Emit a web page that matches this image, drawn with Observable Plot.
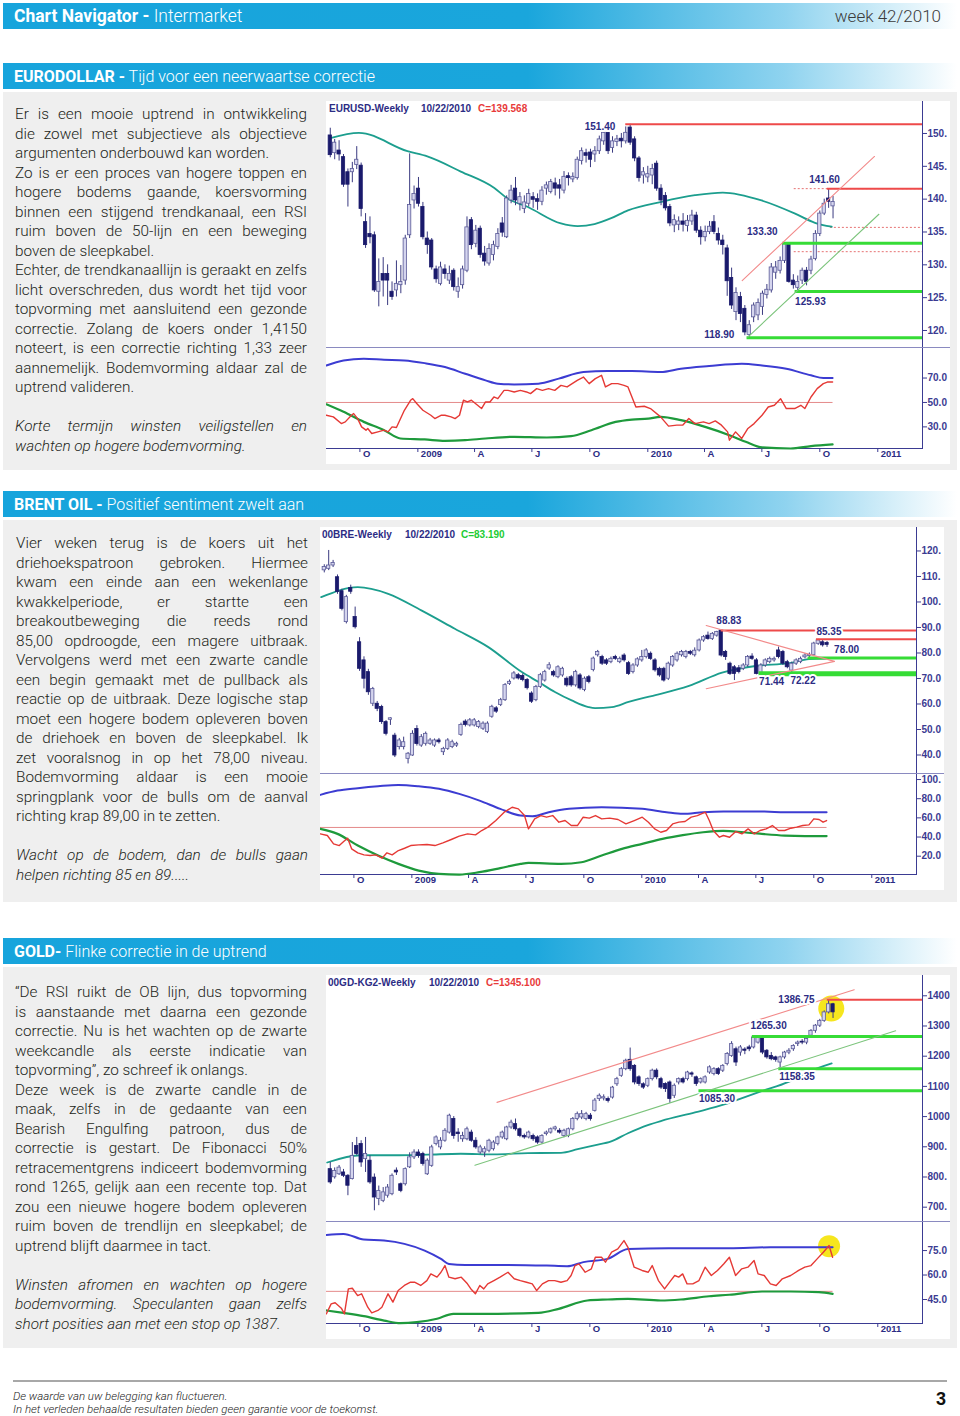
<!DOCTYPE html>
<html><head><meta charset="utf-8">
<script src="https://cdn.jsdelivr.net/npm/d3@7"></script>
<script src="https://cdn.jsdelivr.net/npm/@observablehq/plot@0.6"></script>
<style>
body{margin:0;background:#fff;}
#page{position:relative;width:960px;height:1416px;overflow:hidden;font-family:Roboto,"Liberation Sans",Arial,sans-serif;}
.bar{position:absolute;left:3px;width:954px;height:26px;background:linear-gradient(90deg,#17a4dc 0%,#1aa6dc 55%,#8fd3ef 82%,#ffffff 100%);color:#fff;display:flex;align-items:center;box-sizing:border-box;padding-left:11px;font-size:16px;}
.bar b{font-weight:700;}
.bar span{font-weight:300;}
.panel{position:absolute;left:3px;width:954px;background:#efefef;}
.txt{position:absolute;width:292px;font-size:15.3px;line-height:19.5px;color:#231f20;font-weight:300;}
.ln{height:19.5px;white-space:nowrap;}
.jl{display:flex;justify-content:space-between;}
.it{font-style:italic;}
.chart{position:absolute;width:624px;background:#fff;overflow:hidden;}
.chart .pp{position:absolute;left:0;width:624px;overflow:hidden;}
.sep{position:absolute;left:0;width:624px;height:1px;background:#8a8ac0;}
.ctitle{position:absolute;top:2px;left:0;height:12px;font:bold 10px "Liberation Sans",Arial,sans-serif;color:#2c2c84;white-space:nowrap;}
.ctitle span{position:absolute;top:0;line-height:12px;}
.foot{position:absolute;left:13px;font-size:11.5px;font-style:italic;color:#222;font-weight:300;}
</style>
</head><body><div id="page"></div>
<script>
// ---------- time axis ----------
const DAY = 864e5;
const T0 = Date.UTC(2008, 7, 15);
const wk = i => new Date(T0 + i * 7 * DAY);
const xDomain = [new Date(Date.UTC(2008, 7, 9)), new Date(Date.UTC(2011, 2, 13))];
const tickDates = [[2008,9],[2009,0],[2009,3],[2009,6],[2009,9],[2010,0],[2010,3],[2010,6],[2010,9],[2011,0]].map(([y,m]) => new Date(Date.UTC(y, m, 1)));
const tickLabels = ["O","2009","A","J","O","2010","A","J","O","2011"];

// ---------- EURUSD ----------
const eurOpen = [149.7,147.0,147.4,146.4,144.1,144.1,145.2,145.1,136.5,134.7,134.5,125.9,128.6,128.6,125.9,126.1,126.9,127.6,134.5,139.8,141.6,138.8,134.0,133.7,129.3,127.1,129.3,127.6,129.1,125.9,126.9,129.1,136.8,133.2,135.5,131.7,130.2,131.5,132.7,136.3,134.2,139.8,141.6,139.3,138.5,139.3,140.3,140.0,139.6,141.6,141.1,142.4,142.1,141.3,143.5,143.0,143.2,145.8,147.0,147.1,146.8,147.3,148.8,150.1,147.8,148.7,149.2,148.8,150.9,149.1,146.2,143.6,143.3,143.6,145.4,141.6,140.5,138.8,136.0,136.1,136.6,135.9,136.6,137.5,135.2,134.2,135.0,136.5,134.7,133.7,132.5,128.0,122.8,125.1,123.3,119.3,122.0,122.3,123.6,125.4,126.1,128.8,129.1,130.6,133.2,127.6,126.5,127.6,129.1,129.1,130.9,134.7,137.8,140.1,138.9];
const eurHigh = [150.8,149.1,148.9,146.8,144.6,145.6,148.0,145.5,137.8,137.3,135.0,130.9,131.1,130.0,127.4,130.6,129.9,134.5,146.9,142.0,143.3,139.5,135.0,134.0,129.8,130.4,130.0,129.8,129.4,128.0,129.8,137.3,137.2,136.0,135.9,132.8,133.2,133.6,135.5,137.2,140.5,142.1,143.3,141.0,140.5,141.5,141.0,140.8,141.9,142.6,143.0,143.2,143.0,144.2,144.0,144.0,146.4,147.8,147.6,147.6,148.0,149.6,150.6,150.4,149.5,149.7,150.0,151.0,151.4,149.5,146.5,144.8,145.0,145.3,145.8,142.2,141.0,139.2,137.6,137.3,137.8,137.5,138.3,138.0,135.8,135.9,136.6,137.5,135.6,134.5,133.0,129.5,126.5,125.8,123.8,121.5,124.2,124.8,126.0,127.0,130.2,130.5,131.2,133.3,133.3,128.5,128.3,129.5,129.6,131.3,135.2,138.2,140.0,141.6,140.4];
const eurLow = [146.3,146.0,145.8,141.8,138.8,142.5,144.5,137.3,132.5,133.2,125.8,123.6,125.1,123.8,124.6,125.1,125.6,126.9,134.0,138.5,138.8,133.8,131.6,129.2,127.2,126.8,127.8,127.0,126.0,124.9,126.3,128.8,132.3,132.6,131.0,129.8,129.8,130.6,132.3,134.2,134.0,139.3,139.0,138.2,137.8,138.8,138.6,138.3,139.0,140.6,140.8,140.5,140.0,140.8,142.0,142.5,142.9,145.2,145.5,144.8,145.6,146.8,148.2,146.8,147.0,148.0,147.8,148.4,148.2,145.7,142.6,142.3,142.5,142.2,141.2,139.0,138.2,135.8,134.9,135.2,135.0,135.0,136.0,134.8,133.0,133.5,134.6,134.6,133.0,131.5,125.2,123.2,121.5,121.2,119.2,118.9,121.2,121.5,122.3,124.8,125.7,127.8,128.6,130.2,127.2,126.3,125.93,127.0,126.8,128.5,130.6,134.3,137.5,138.6,137.0];
const eurClose = [146.7,148.6,146.8,142.2,142.2,144.6,146.0,138.5,133.0,134.2,126.1,127.4,127.6,127.6,125.1,127.1,127.4,134.0,139.1,140.8,139.3,134.2,133.0,129.6,127.8,129.6,128.6,128.6,126.6,126.6,129.3,135.7,133.0,135.2,131.5,130.5,132.4,133.0,134.7,134.9,140.1,141.3,139.8,140.3,139.5,140.8,139.9,139.6,141.3,142.1,142.6,141.6,141.6,143.4,143.2,143.4,146.0,147.3,146.6,146.0,147.3,149.1,150.1,147.3,148.8,149.1,148.8,150.1,148.6,146.2,143.2,144.1,143.8,144.6,141.6,139.8,138.6,136.3,136.8,136.6,136.1,136.7,137.5,135.2,134.2,135.0,135.8,135.0,133.7,133.0,127.5,123.8,125.7,122.5,119.7,120.8,123.8,124.2,125.6,126.2,129.6,129.6,130.6,133.2,127.4,126.9,127.4,129.1,127.4,130.8,134.7,137.8,139.3,139.6,139.568];
const eurMA = [[0,149.3],[6.5,150.1],[17.5,147.3],[22,146.5],[29.6,144.2],[37.2,141.7],[40.2,140.1],[44.8,138.8],[52.3,136.3],[56.1,135.9],[59.9,136.2],[63.7,137.1],[67.5,138.3],[75.1,139.6],[82.7,140.6],[89,141.0],[97.8,139.8],[105.4,137.8],[109.9,136.4],[113.7,135.8]];
const eurRedLevels = [[151.40,67.0],[141.60,112.7]];
const eurDotLevels = [[141.60,105.2],[135.7,113.4],[132.0,105.2]];
const eurGreenLevels = [[133.30,102.6],[125.93,105.4],[118.90,94.5]];
const eurRedTrend = [[93.4,127.6],[123.4,146.5]];
const eurGreenTrend = [[94.7,119.0],[124.4,137.7]];
const eurLabels = [["151.40",57.7,151.0],["141.60",108.6,143.0],["133.30",94.5,135.1],["125.93",105.4,124.4],["118.90",84.8,119.3]];
const eurTicks = [150,145,140,135,130,125,120];
const eurRsi = [[-0.9,39.5],[0.7,38.2],[2.5,32.7],[3.4,34.1],[4.8,39.5],[5.3,40.9],[6.2,36.8],[7.1,30.0],[8.1,27.3],[8.5,28.7],[9.4,24.6],[10.8,25.9],[12.2,27.3],[13.1,25.9],[14.0,30.0],[15.0,29.5],[16.8,43.6],[18.2,51.8],[18.7,53.1],[19.6,49.1],[21.0,43.6],[22.8,39.5],[23.7,36.8],[25.1,39.5],[26.0,39.5],[27.4,38.2],[28.3,36.8],[29.3,39.5],[30.2,51.8],[31.1,50.4],[32.0,51.8],[33.4,47.7],[34.3,45.0],[35.2,50.4],[36.2,50.4],[37.1,54.5],[38.0,53.1],[39.4,59.9],[40.3,59.9],[41.7,58.6],[43.1,59.9],[44.5,58.6],[45.4,57.2],[46.8,61.3],[48.1,59.9],[49.5,61.3],[50.9,59.9],[52.3,64.0],[53.7,62.7],[56.0,68.1],[57.4,70.8],[58.7,65.4],[60.1,69.5],[61.5,72.2],[62.4,62.7],[63.8,65.4],[65.2,65.4],[66.6,64.0],[67.5,62.7],[69.3,46.3],[71.2,46.9],[72.6,45.0],[74.9,38.2],[76.7,30.6],[78.6,31.4],[79.9,31.4],[81.3,36.8],[82.7,32.7],[84.6,34.1],[85.9,32.7],[87.3,34.9],[88.7,31.4],[90.1,25.9],[90.5,19.1],[91.9,25.9],[93.3,20.5],[94.7,28.7],[96.1,32.7],[97.9,39.5],[99.3,46.3],[100.7,47.7],[102.1,53.1],[103.4,45.0],[105.3,45.0],[106.7,47.7],[107.6,45.0],[109.0,54.5],[110.4,61.3],[111.8,65.4],[112.7,66.7],[113.9,66.7]];
const eurUpper = [[-0.9,80.3],[3.0,84.4],[7.6,85.8],[12.2,85.0],[16.8,84.4],[21.4,82.2],[26.0,79.0],[30.6,73.5],[35.2,68.1],[38.0,65.4],[41.7,64.8],[47.2,65.4],[51.8,69.5],[57.4,74.9],[62.9,75.7],[68.4,75.7],[74.9,74.9],[79.5,77.6],[85.9,79.8],[93.3,81.7],[97.9,80.3],[103.4,77.6],[109.0,72.2],[111.8,70.0],[113.9,70.0]];
const eurLower = [[-0.9,48.5],[3.0,42.3],[7.6,34.1],[12.2,27.3],[15.9,20.5],[21.4,19.7],[26.0,18.6],[30.6,19.1],[35.2,20.5],[41.7,21.9],[49.1,21.3],[54.6,22.4],[59.2,27.3],[64.7,34.1],[68.4,36.0],[72.1,36.8],[74.9,38.2],[79.5,35.5],[85.0,30.0],[90.5,23.2],[94.2,17.8],[97.9,13.2],[104.4,12.3],[109.0,14.2],[113.9,15.6]];
const eurRsiTicks = [70,50,30];

// ---------- BRENT ----------
const brentOpen = [112.4,113.0,114.3,109.7,104.2,92.1,105.5,94.1,84.2,77.1,72.5,60.1,60.1,58.8,52.9,53.8,47.6,43.1,43.1,38.5,39.8,50.2,43.7,44.4,44.4,43.7,45.7,41.1,42.4,43.1,43.7,47.9,53.1,51.6,51.6,51.0,50.3,49.0,55.0,58.3,59.6,61.5,67.9,70.0,71.3,71.0,69.4,64.1,61.5,66.7,69.2,73.9,72.5,70.5,71.2,69.9,70.5,67.3,71.2,65.5,70.5,73.3,79.1,78.4,77.1,76.4,78.4,76.4,79.0,76.0,72.5,75.1,77.1,78.4,79.7,77.1,73.8,73.8,69.9,75.1,77.1,79.1,78.4,80.4,79.1,81.0,84.9,86.8,85.5,86.8,88.8,80.4,75.8,74.4,74.0,73.8,75.1,78.6,77.1,71.8,75.1,76.4,77.1,81.0,80.4,76.4,73.1,75.8,76.4,78.3,78.8,79.1,83.6,84.2,83.9];
const brentHigh = [114.6,120.2,116.3,110.6,105.0,102.6,106.6,98.0,86.0,78.5,73.6,66.5,61.0,59.5,53.5,54.6,48.5,46.5,47.0,41.0,49.5,51.5,48.0,49.0,46.5,46.3,46.5,43.0,46.4,45.8,45.0,52.5,53.8,54.3,54.3,53.5,53.0,53.0,59.5,59.0,62.2,68.0,69.4,72.7,72.0,71.8,70.0,64.8,67.3,72.0,73.2,76.2,73.2,75.0,74.4,70.6,71.2,73.2,71.9,70.6,71.2,78.4,81.0,79.1,77.8,78.4,79.1,78.4,79.7,76.7,75.8,78.1,81.0,81.7,80.4,77.8,74.4,74.4,76.4,79.0,80.4,81.0,81.0,81.0,82.0,85.5,86.8,88.2,88.0,88.5,88.83,81.0,76.4,75.1,75.1,75.8,79.0,79.7,77.8,75.8,77.7,78.4,78.4,82.3,81.0,77.1,76.4,77.7,78.4,79.7,80.0,84.2,85.35,84.9,84.5];
const brentLow = [111.4,112.3,113.5,103.0,96.5,91.4,103.0,89.4,72.8,65.9,63.4,59.0,57.0,52.0,47.5,51.6,39.0,42.0,42.0,36.5,39.5,43.5,43.0,43.5,43.8,43.0,44.3,39.8,41.8,42.5,43.0,47.3,51.0,51.0,51.0,50.3,49.6,48.4,54.4,56.3,59.0,61.0,67.3,69.4,69.4,68.7,65.5,60.2,60.9,66.1,68.6,73.2,70.5,69.9,70.5,66.6,66.6,66.6,65.4,64.8,67.9,72.6,78.4,75.1,75.1,75.8,77.1,75.8,76.4,71.2,71.8,74.4,76.4,77.7,77.1,72.5,70.5,68.6,69.2,74.4,76.4,78.4,77.7,79.0,78.4,80.4,84.2,85.0,84.9,86.2,78.4,77.1,71.2,69.2,71.8,73.1,74.4,77.1,71.44,71.5,74.4,75.8,76.4,77.7,75.1,73.8,72.22,75.1,75.8,77.7,78.1,78.6,83.0,82.3,82.2];
const brentClose = [113.7,114.3,115.3,103.9,97.3,101.9,104.0,90.1,73.8,69.9,64.6,65.9,58.1,52.9,48.3,54.4,39.8,45.7,45.0,40.5,48.3,44.3,47.0,48.3,45.7,45.7,45.0,42.4,45.7,45.0,44.4,51.8,51.8,53.6,53.6,52.9,52.3,52.3,58.9,57.0,61.5,67.4,68.7,72.0,70.0,69.4,66.2,60.9,66.7,71.3,72.5,75.2,71.2,74.4,73.8,67.3,67.3,72.5,66.1,69.9,68.6,77.8,80.4,75.8,75.8,77.7,77.7,77.7,77.1,71.8,75.1,77.5,78.4,81.0,77.7,73.2,71.2,69.2,75.8,78.4,79.7,80.4,80.4,79.7,80.9,84.9,86.2,85.5,87.5,88.2,79.0,78.4,71.8,71.8,72.5,75.1,78.4,77.7,71.8,75.1,77.1,77.7,77.7,78.4,75.8,74.4,75.8,77.1,77.7,79.0,79.3,83.7,84.9,83.0,83.19];
const brentMA = [[-0.7,101.9],[7.6,105.8],[14.5,103.2],[22.0,96.7],[29.6,89.5],[37.2,82.3],[44.8,72.5],[48.6,68.6],[52.3,64.7],[56.1,61.4],[59.9,58.8],[61.4,58.4],[65.2,58.8],[69.0,60.8],[72.0,62.2],[75.1,63.5],[82.7,67.1],[90.2,72.3],[97.8,74.9],[105.4,76.0],[109.9,77.6],[113.7,77.8]];
const brentRedLevels = [[88.83,90.0],[85.35,111.6]];
const brentGreenLevels = [[78.00,109.7],[72.22,98.6],[71.44,98.6]];
const brentTriangle = [[86.6,90.8],[115.7,76.7],[86.6,66.0]];
const brentLabels = [["88.83",88.9,92.7],["85.35",111.6,88.4],["78.00",115.6,81.4],["71.44",98.6,68.8],["72.22",105.7,69.2]];
const brentTicks = [120,110,100,90,80,70,60,50,40];
const brentRsi = [[-0.9,43.3],[0.7,41.6],[2.1,32.9],[3.4,31.1],[4.4,35.3],[5.3,38.8],[6.2,27.7],[7.6,23.5],[9.0,21.4],[10.4,20.7],[11.7,21.4],[13.1,17.9],[14.2,23.5],[15.4,21.4],[16.8,25.9],[18.2,28.3],[19.6,31.1],[21.4,31.8],[23.3,32.2],[25.1,31.1],[26.9,33.9],[28.8,37.4],[30.6,40.9],[32.5,43.3],[34.3,42.3],[35.7,46.8],[37.1,50.3],[38.9,57.2],[40.8,65.9],[42.6,71.1],[44.0,69.4],[45.4,62.4],[46.3,48.5],[47.7,59.0],[49.1,62.4],[50.4,60.7],[51.8,62.4],[53.2,55.5],[54.6,57.2],[56.0,52.0],[57.4,52.0],[58.7,60.7],[60.1,59.7],[61.5,62.4],[62.9,59.0],[64.7,59.7],[66.6,58.3],[68.4,53.7],[70.3,57.2],[72.1,60.7],[73.5,55.5],[74.9,48.5],[76.3,45.0],[77.6,46.8],[79.0,53.7],[80.4,55.5],[81.8,56.2],[83.2,60.7],[84.6,62.4],[85.5,64.2],[86.4,65.9],[87.3,57.2],[88.2,46.8],[89.6,39.8],[90.5,41.6],[91.9,39.8],[93.3,45.7],[94.7,43.3],[96.1,48.5],[97.5,43.3],[98.8,46.8],[100.2,48.5],[101.6,52.0],[103.0,46.8],[104.4,46.8],[105.8,49.2],[107.1,50.3],[108.5,52.0],[109.9,52.7],[111.0,59.0],[112.2,58.3],[113.1,55.5],[113.9,57.2]];
const brentUpper = [[-0.9,84.0],[3.0,88.5],[7.6,91.0],[12.2,93.0],[16.8,94.4],[21.4,93.0],[26.0,90.3],[30.6,85.0],[35.2,78.0],[39.9,69.4],[44.5,62.4],[47.2,61.7],[50.9,65.9],[55.5,69.4],[62.9,71.1],[72.1,69.4],[77.6,65.9],[81.3,64.2],[85.9,65.9],[90.5,66.6],[99.8,66.6],[104.4,65.9],[113.9,65.9]];
const brentLower = [[-0.9,48.5],[3.0,43.3],[7.6,31.1],[12.2,20.7],[16.8,12.0],[21.4,5.0],[26.0,1.6],[30.6,0.8],[35.2,3.3],[39.9,7.5],[44.5,12.0],[46.3,13.0],[53.7,12.0],[58.3,13.7],[62.9,20.7],[67.5,27.7],[72.1,32.9],[76.7,38.1],[81.3,42.0],[85.9,45.0],[90.5,46.5],[95.1,45.0],[99.8,43.0],[104.4,41.5],[109.0,41.0],[113.9,41.0]];
const brentRsiTicks = [100,80,60,40,20];

// ---------- GOLD ----------
const goldOpen = [826,799,809,815,804,793,903,909,859,854,798,727,721,738,743,821,776,776,832,865,881,876,809,837,909,898,920,947,992,947,925,925,947,920,881,881,887,892,909,931,925,964,975,958,936,931,936,931,914,942,947,958,953,936,936,958,992,997,992,1003,1019,1058,1060,1058,1063,1107,1135,1157,1188,1168,1130,1107,1102,1124,1152,1124,1108,1113,1069,1113,1124,1124,1143,1130,1113,1113,1146,1141,1157,1152,1174,1201,1223,1212,1222,1229,1229,1245,1262,1218,1201,1196,1179,1196,1212,1223,1240,1248,1245,1268,1284,1301,1317,1345,1372];
const goldHigh = [848,830,838,825,808,914,931,920,931,870,810,770,765,775,810,830,780,830,880,890,890,882,860,905,936,930,960,1008,1000,960,948,965,955,930,905,900,925,920,935,952,968,988,992,962,942,952,942,936,940,952,962,968,960,958,962,997,1015,1020,1014,1010,1060,1075,1072,1065,1100,1130,1162,1190,1227,1172,1135,1112,1128,1157,1158,1130,1112,1118,1108,1128,1130,1150,1148,1134,1128,1135,1168,1162,1162,1172,1212,1248,1230,1235,1228,1236,1265,1265.3,1264,1222,1212,1200,1200,1216,1225,1238,1250,1255,1260,1288,1305,1322,1350,1386.75,1375];
const goldLow = [776,793,805,798,738,790,870,832,815,776,688,705,715,730,738,805,748,770,828,858,862,836,805,832,903,890,915,942,925,915,915,920,915,892,875,865,880,886,903,925,920,958,952,930,925,926,918,908,909,936,942,952,942,930,930,953,986,990,986,985,1015,1050,1052,1045,1058,1100,1130,1152,1150,1105,1100,1090,1096,1118,1122,1090,1080,1044,1060,1105,1108,1118,1130,1100,1108,1108,1140,1135,1136,1146,1168,1196,1166,1200,1205,1215,1224,1240,1205,1190,1185,1180,1158.35,1190,1205,1216,1232,1238,1238,1262,1276,1295,1312,1340,1325];
const goldClose = [782,820,831,804,771,870,876,848,876,782,732,754,749,765,804,815,754,826,865,881,870,843,854,898,931,920,953,1003,936,942,936,958,920,898,898,892,920,914,931,947,964,980,958,936,931,947,925,914,936,947,958,964,947,953,958,992,1008,1008,1008,992,1053,1069,1064,1052,1096,1124,1157,1185,1157,1113,1108,1096,1124,1152,1130,1096,1091,1058,1102,1124,1113,1146,1139,1108,1124,1130,1163,1157,1141,1168,1207,1240,1179,1229,1218,1223,1262,1262,1212,1196,1190,1188,1196,1212,1218,1234,1245,1245,1257,1284,1301,1317,1345,1372,1345.1];
const goldMA = [[-0.7,848],[6.9,872],[14.5,872],[22,874],[29.6,877],[37.2,875],[44.8,879],[52.3,880],[56.1,892],[59.9,905],[63.7,918],[67.5,945],[72.0,972],[75.1,986],[82.7,1014],[89.5,1041],[91.8,1053],[97.8,1084],[103.9,1115],[108.4,1148],[113.7,1176]];
const goldRedLevels = [[1386.75,112.7]];
const goldGreenLevels = [[1265.30,95.7],[1158.35,101.7],[1085.30,83.6]];
const goldRedTrend = [[37.8,1047],[118.8,1420]];
const goldGreenTrend = [[32.8,839],[128.2,1284]];
const goldLabels = [["1386.75",101.6,1387.7],["1265.30",95.3,1301.7],["1158.35",101.8,1132.8],["1085.30",83.6,1060]];
const goldMarker = [[113.6,1358]];
const goldTicks = [1400,1300,1200,1100,1000,900,800,700];
const goldRsi = [[-0.9,36.2],[0.2,42.3],[1.1,43.0],[2.5,39.7],[3.2,36.2],[4.1,51.5],[5.0,51.9],[6.2,47.4],[7.1,48.5],[8.5,40.3],[9.4,36.8],[10.8,38.3],[11.7,40.3],[13.1,48.5],[14.2,43.4],[15.4,50.5],[16.8,53.6],[18.2,55.6],[19.1,55.6],[20.5,53.6],[21.9,56.6],[22.8,60.7],[24.2,58.7],[25.1,61.7],[26.0,65.8],[26.9,58.7],[28.3,57.7],[29.7,58.7],[31.1,54.6],[32.0,51.1],[32.9,48.5],[33.9,53.6],[34.8,51.5],[35.7,54.6],[37.1,56.6],[38.5,58.7],[40.3,61.7],[41.7,57.7],[43.1,56.6],[44.5,55.6],[45.8,54.6],[46.8,50.5],[48.1,54.6],[49.5,56.6],[50.9,56.6],[52.3,55.6],[53.7,56.6],[54.6,59.7],[55.5,65.8],[56.4,66.8],[57.8,61.7],[59.2,63.8],[60.1,70.9],[61.5,70.9],[62.4,67.9],[63.8,74.0],[65.2,76.0],[66.6,81.1],[67.5,77.0],[68.9,64.8],[70.7,62.8],[72.1,61.7],[73.0,65.8],[74.4,56.6],[75.8,51.5],[77.2,56.6],[78.1,59.7],[79.0,58.7],[79.9,60.7],[80.9,54.6],[82.2,54.6],[83.6,56.6],[85.0,64.8],[86.4,59.7],[87.8,62.8],[89.2,66.8],[90.5,70.9],[91.9,59.7],[93.3,63.8],[94.7,64.8],[96.1,68.9],[97.0,60.7],[98.4,59.7],[99.8,54.6],[101.1,53.6],[102.5,57.7],[104.4,59.7],[106.2,62.8],[107.6,64.8],[109.0,65.8],[110.4,69.9],[111.8,74.0],[113.1,78.1],[113.9,70.9]];
const goldUpper = [[-0.9,84.6],[3.0,85.2],[7.6,81.7],[12.2,81.1],[16.8,79.1],[21.4,75.0],[25.1,69.9],[26.9,66.8],[30.6,66.2],[39.9,66.2],[49.1,65.8],[53.7,65.4],[57.4,67.9],[62.9,69.9],[67.5,76.0],[76.7,76.4],[90.5,76.4],[99.8,77.0],[113.9,77.0]];
const goldLower = [[-0.9,38.3],[3.0,36.8],[7.6,34.8],[12.2,32.1],[15.9,30.5],[19.6,31.1],[24.2,33.2],[27.9,36.2],[35.2,36.2],[47.2,36.8],[51.8,39.3],[58.3,44.4],[62.9,45.0],[67.5,45.4],[74.9,44.4],[79.5,45.0],[85.9,47.0],[90.5,47.9],[97.9,49.9],[104.4,49.9],[110.8,49.5],[113.9,48.5]];
const goldRsiMarker = [[113.1,77.7]];
const goldRsiTicks = [75,60,45];

// ---------- text ----------
const eurBody = [["Er is een mooie uptrend in ontwikkeling",1],["die zowel met subjectieve als objectieve",1],["argumenten onderbouwd kan worden.",0],["Zo is er een proces van hogere toppen en",1],["hogere bodems gaande, koersvorming",1],["binnen een stijgend trendkanaal, een RSI",1],["ruim boven de 50-lijn en een beweging",1],["boven de sleepkabel.",0],["Echter, de trendkanaallijn is geraakt en zelfs",1],["licht overschreden, dus wordt het tijd voor",1],["topvorming met aansluitend een gezonde",1],["correctie. Zolang de koers onder 1,4150",1],["noteert, is een correctie richting 1,33 zeer",1],["aannemelijk. Bodemvorming aldaar zal de",1],["uptrend valideren.",0]];
const eurNote = [["Korte termijn winsten veiligstellen en",1],["wachten op hogere bodemvorming.",0]];
const brentBody = [["Vier weken terug is de koers uit het",1],["driehoekspatroon gebroken. Hiermee",1],["kwam een einde aan een wekenlange",1],["kwakkelperiode, er startte een",1],["breakoutbeweging die reeds rond",1],["85,00 opdroogde, een magere uitbraak.",1],["Vervolgens werd met een zwarte candle",1],["een begin gemaakt met de pullback als",1],["reactie op de uitbraak. Deze logische stap",1],["moet een hogere bodem opleveren boven",1],["de driehoek en boven de sleepkabel. Ik",1],["zet vooralsnog in op het 78,00 niveau.",1],["Bodemvorming aldaar is een mooie",1],["springplank voor de bulls om de aanval",1],["richting krap 89,00 in te zetten.",0]];
const brentNote = [["Wacht op de bodem, dan de bulls gaan",1],["helpen richting 85 en 89.....",0]];
const goldBody = [["“De RSI ruikt de OB lijn, dus topvorming",1],["is aanstaande met daarna een gezonde",1],["correctie. Nu is het wachten op de zwarte",1],["weekcandle als eerste indicatie van",1],["topvorming”, zo schreef ik onlangs.",0],["Deze week is de zwarte candle in de",1],["maak, zelfs in de gedaante van een",1],["Bearish Engulfing patroon, dus de",1],["correctie is gestart. De Fibonacci 50%",1],["retracementgrens indiceert bodemvorming",1],["rond 1265, gelijk aan een recente top. Dat",1],["zou een nieuwe hogere bodem opleveren",1],["ruim boven de trendlijn en sleepkabel; de",1],["uptrend blijft daarmee in tact.",0]];
const goldNote = [["Winsten afromen en wachten op hogere",1],["bodemvorming. Speculanten gaan zelfs",1],["short posities aan met een stop op 1387.",0]];

// ---------- drawing ----------
const page = document.getElementById("page");
const W = 624, MR = 28;
const NAVY = "#2c2c84", AXIS = "#3b3b92";
const TEAL = "#1c9e8e", DARK = "#1a1a6c", HOLLOW = "#d5d5ee", HOLLOWS = "#5a5a98", WICK = "#3a3a80";
const FONT = "'Liberation Sans', Arial, sans-serif";
const tickFmt = d => d.toFixed(2).slice(0, 4);

function el(tag, cls, css, html) {
  const e = document.createElement(tag);
  if (cls) e.className = cls;
  if (css) Object.assign(e.style, css);
  if (html != null) e.innerHTML = html;
  return e;
}

function bar(top, bold, rest, right) {
  const b = el("div", "bar", {top: top + "px"});
  b.appendChild(el("b", null, null, bold));
  b.appendChild(el("span", null, {whiteSpace: "pre"}, rest));
  if (right) b.appendChild(el("div", null, {position: "absolute", right: "16px", color: "#3a3a3a", fontWeight: "300", fontSize: "17px"}, right));
  page.appendChild(b);
  return b;
}

function textBlock(left, top, body, note) {
  const t = el("div", "txt", {left: left + "px", top: top + "px"});
  const addLine = ([s, j], italic) => {
    const d = el("div", "ln" + (j ? " jl" : "") + (italic ? " it" : ""));
    if (j) s.split(/\s+/).forEach(w => d.appendChild(el("span", null, null, w)));
    else d.textContent = s;
    t.appendChild(d);
  };
  body.forEach(l => addLine(l, false));
  t.appendChild(el("div", "ln"));
  note.forEach(l => addLine(l, true));
  page.appendChild(t);
}

const px = d => wk(d[0]), py = d => d[1];

function chart(cfg) {
  const box = el("div", "chart", {left: cfg.left + "px", top: cfg.top + "px", height: (cfg.priceH + cfg.rsiH + 16) + "px"});
  const candles = cfg.open.map((o, i) => ({date: wk(i), o, h: cfg.high[i], l: cfg.low[i], c: cfg.close[i]}));
  const up = candles.filter(d => d.c >= d.o), dn = candles.filter(d => d.c < d.o);
  const half = 2.6 * DAY;
  const X1 = d => new Date(+d.date - half), X2 = d => new Date(+d.date + half);
  const end = () => xDomain[1];
  const marks = [];
  if (cfg.marker) marks.push(Plot.dot(cfg.marker, {x: px, y: py, r: 13, fill: "#f6e61e"}));
  marks.push(
    Plot.ruleY(cfg.dotLevels || [], {y: d => d[0], x1: d => wk(d[1]), x2: end, stroke: "#e67272", strokeWidth: 1, strokeDasharray: "2,2"}),
    Plot.line(cfg.ma, {x: px, y: py, stroke: TEAL, strokeWidth: 1.8, curve: "monotone-x"}),
    Plot.ruleX(candles, {x: "date", y1: "l", y2: "h", stroke: WICK, strokeWidth: 1}),
    Plot.rect(up, {x1: X1, x2: X2, y1: "o", y2: "c", fill: HOLLOW, stroke: HOLLOWS, strokeWidth: 0.8}),
    Plot.rect(dn, {x1: X1, x2: X2, y1: "o", y2: "c", fill: DARK, stroke: DARK, strokeWidth: 0.8}),
    Plot.ruleY(cfg.greenLevels, {y: d => d[0], x1: d => wk(d[1]), x2: end, stroke: "#36dc36", strokeWidth: 3}),
    Plot.ruleY(cfg.redLevels, {y: d => d[0], x1: d => wk(d[1]), x2: end, stroke: "#ee4a4a", strokeWidth: 2}),
    Plot.line(cfg.redTrend, {x: px, y: py, stroke: "#f28a8a", strokeWidth: 1.1}),
    Plot.line(cfg.greenTrend || [], {x: px, y: py, stroke: "#7cc47c", strokeWidth: 1.1}),
    Plot.text(cfg.labels, {x: d => wk(d[1]), y: d => d[2], text: d => d[0], textAnchor: "start", fill: NAVY, stroke: "white", strokeWidth: 4, fontWeight: "bold", fontSize: 10, fontFamily: FONT})
  );
  const price = Plot.plot({
    width: W, height: cfg.priceH, marginTop: 0, marginBottom: 0, marginLeft: 0, marginRight: MR,
    style: {background: "white", color: AXIS, fontFamily: FONT, fontSize: "10px", fontWeight: "bold"},
    x: {type: "utc", domain: xDomain, axis: null},
    y: {domain: cfg.yDomain, axis: "right", ticks: cfg.yTicks, tickFormat: tickFmt, tickSize: 4, tickPadding: 1, line: true, label: null},
    marks
  });
  const rsiMarks = [];
  if (cfg.rsiMarker) rsiMarks.push(Plot.dot(cfg.rsiMarker, {x: px, y: py, r: 11, fill: "#f6e61e"}));
  rsiMarks.push(
    Plot.ruleY([50], {x1: () => wk(-0.9), x2: () => wk(114), stroke: "#e48a8a", strokeWidth: 1}),
    Plot.line(cfg.upper, {x: px, y: py, stroke: "#3c3cd2", strokeWidth: 2, curve: "monotone-x"}),
    Plot.line(cfg.lower, {x: px, y: py, stroke: "#1e9a3c", strokeWidth: 2.2, curve: "monotone-x"}),
    Plot.line(cfg.rsi, {x: px, y: py, stroke: "#e53935", strokeWidth: 1.4}),
    Plot.text(tickDates, {x: d => d, text: (d, i) => tickLabels[i], frameAnchor: "bottom", dy: 8, dx: 3, textAnchor: "start", fill: NAVY, fontWeight: "bold", fontSize: 9.5, fontFamily: FONT})
  );
  const rsi = Plot.plot({
    width: W, height: cfg.rsiH + 16, marginTop: 0, marginBottom: 16, marginLeft: 0, marginRight: MR,
    style: {background: "white", color: AXIS, fontFamily: FONT, fontSize: "10px", fontWeight: "bold"},
    x: {type: "utc", domain: xDomain, ticks: tickDates, tickFormat: () => "", tickSize: 4, line: true, label: null},
    y: {domain: cfg.rsiDomain, axis: "right", ticks: cfg.rsiTicks, tickFormat: tickFmt, tickSize: 4, tickPadding: 1, line: true, label: null},
    marks: rsiMarks
  });
  const p1 = el("div", "pp", {top: "0px", height: cfg.priceH + "px"}); p1.appendChild(price);
  const p2 = el("div", "pp", {top: cfg.priceH + "px", height: (cfg.rsiH + 16) + "px"}); p2.appendChild(rsi);
  box.appendChild(p1); box.appendChild(p2);
  box.appendChild(el("div", "sep", {top: (cfg.priceH - 0.5) + "px"}));
  const t = el("div", "ctitle");
  cfg.title.forEach(([s, x, c]) => t.appendChild(el("span", null, {left: x + "px", color: c || NAVY}, s)));
  box.appendChild(t);
  page.appendChild(box);
}

// header
bar(3, "Chart Navigator -", " Intermarket", "week 42/2010").style.fontSize = "17.5px";

// sections
bar(63, "EURODOLLAR -", " Tijd voor een neerwaartse correctie");
page.appendChild(el("div", "panel", {top: "92px", height: "378px"}));
textBlock(15, 105, eurBody, eurNote);
chart({left: 326, top: 101, priceH: 246, rsiH: 101,
  open: eurOpen, high: eurHigh, low: eurLow, close: eurClose, ma: eurMA,
  yDomain: [117.41, 154.87], yTicks: eurTicks,
  redLevels: eurRedLevels, dotLevels: eurDotLevels, greenLevels: eurGreenLevels,
  redTrend: eurRedTrend, greenTrend: eurGreenTrend, labels: eurLabels,
  rsi: eurRsi, upper: eurUpper, lower: eurLower, rsiDomain: [12.3, 95], rsiTicks: eurRsiTicks,
  title: [["EURUSD-Weekly", 3], ["10/22/2010", 95], ["C=139.568", 152, "#e83a3a"]]});

bar(491, "BRENT OIL -", " Positief sentiment zwelt aan");
page.appendChild(el("div", "panel", {top: "520px", height: "382px"}));
textBlock(16, 534, brentBody, brentNote);
chart({left: 320, top: 527, priceH: 246, rsiH: 101,
  open: brentOpen, high: brentHigh, low: brentLow, close: brentClose, ma: brentMA,
  yDomain: [32.75, 129.2], yTicks: brentTicks,
  redLevels: brentRedLevels, greenLevels: brentGreenLevels,
  redTrend: brentTriangle, labels: brentLabels,
  rsi: brentRsi, upper: brentUpper, lower: brentLower, rsiDomain: [0.9, 106.3], rsiTicks: brentRsiTicks,
  title: [["00BRE-Weekly", 2], ["10/22/2010", 85], ["C=83.190", 141, "#22cc33"]]});

bar(938, "GOLD-", " Flinke correctie in de uptrend");
page.appendChild(el("div", "panel", {top: "967px", height: "381px"}));
textBlock(15, 983, goldBody, goldNote);
chart({left: 326, top: 975, priceH: 246, rsiH: 102,
  open: goldOpen, high: goldHigh, low: goldLow, close: goldClose, ma: goldMA,
  yDomain: [652.6, 1467.2], yTicks: goldTicks,
  redLevels: goldRedLevels, greenLevels: goldGreenLevels,
  redTrend: goldRedTrend, greenTrend: goldGreenTrend, labels: goldLabels, marker: goldMarker,
  rsi: goldRsi, upper: goldUpper, lower: goldLower, rsiDomain: [30.3, 92.8], rsiTicks: goldRsiTicks, rsiMarker: goldRsiMarker,
  title: [["00GD-KG2-Weekly", 2], ["10/22/2010", 103], ["C=1345.100", 160, "#e83a3a"]]});

// footer
page.appendChild(el("div", null, {position: "absolute", left: "13px", top: "1380px", width: "934px", height: "2px", background: "#a8a8a8"}));
page.appendChild(el("div", "foot", {top: "1389px"}, "De waarde van uw belegging kan fluctueren."));
page.appendChild(el("div", "foot", {top: "1402px"}, "In het verleden behaalde resultaten bieden geen garantie voor de toekomst."));
page.appendChild(el("div", null, {position: "absolute", left: "936px", top: "1389px", fontSize: "18px", fontWeight: "700", color: "#111", fontFamily: "'Liberation Sans', Arial, sans-serif"}, "3"));
</script>
</body></html>
